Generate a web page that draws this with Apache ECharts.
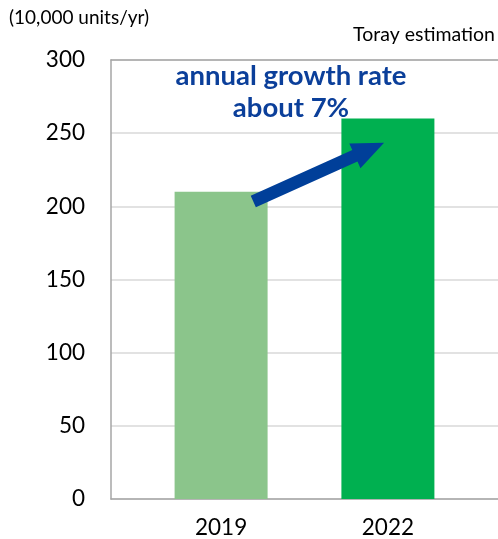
<!DOCTYPE html>
<html><head><meta charset="utf-8">
<script src="https://cdn.jsdelivr.net/npm/echarts@6/dist/echarts.min.js"></script>
<style>html,body{margin:0;padding:0;background:#fff}#c{width:498px;height:539px}</style>
</head><body><div id="c"></div>
<script>
const categories = ['2019', '2022'];
const values = [210, 260];
const barColors = ['#8BC58B', '#00B050'];
const yTicks = [0, 50, 100, 150, 200, 250, 300];
const unitLabel = '(10,000 units/yr)';
const sourceLabel = 'Toray estimation';
const noteLines = ['annual growth rate', 'about 7%'];
// arrow anchors in data space [categoryIndexPosition, value]
const arrowFrom = [0.193, 203.3];
const arrowTo = [0.977, 243.5];

const FONT = 'Lato, "Open Sans", sans-serif';
const chart = echarts.init(document.getElementById('c'), null, {renderer: 'canvas'});
const xCommon = {type: 'value', min: -0.66, max: 1.66, splitLine: {show: false}};
chart.setOption({
  animation: false,
  grid: {left: 111, right: 0, top: 60, bottom: 40, containLabel: false},
  xAxis: [
    Object.assign({}, xCommon, {
      position: 'bottom',
      axisLine: {show: true, onZero: false, lineStyle: {color: '#A6A6A6', width: 1.5}},
      axisTick: {show: false},
      axisLabel: {
        customValues: categories.map((c, i) => i),
        formatter: v => categories[Math.round(v)] || '',
        color: '#000', fontSize: 22.5, fontFamily: FONT, margin: 17
      }
    }),
    Object.assign({}, xCommon, {
      position: 'top',
      axisLine: {show: true, onZero: false, lineStyle: {color: '#A6A6A6', width: 1.5}},
      axisTick: {show: false}, axisLabel: {show: false}
    })
  ],
  yAxis: {
    type: 'value', min: yTicks[0], max: yTicks[yTicks.length - 1], interval: 50,
    axisLine: {show: true, onZero: false, lineStyle: {color: '#A6A6A6', width: 1.5}},
    axisTick: {show: false},
    splitLine: {lineStyle: {color: '#D9D9D9', width: 1.5}},
    axisLabel: {color: '#000', fontSize: 22.5, fontFamily: FONT, margin: 26}
  },
  series: [{
    type: 'bar', xAxisIndex: 0, barWidth: 93,
    data: values.map((v, i) => ({value: [i, v], itemStyle: {color: barColors[i]}}))
  }]
});

function arrowGraphic() {
  const s = chart.convertToPixel({xAxisIndex: 0, yAxisIndex: 0}, arrowFrom);
  const t = chart.convertToPixel({xAxisIndex: 0, yAxisIndex: 0}, arrowTo);
  const dx = t[0] - s[0], dy = t[1] - s[1];
  const L = Math.hypot(dx, dy);
  const ux = dx / L, uy = dy / L, nx = -uy, ny = ux;
  const hw = 6.3, headW = 13.6, headL = 32;
  const b = [t[0] - ux * headL, t[1] - uy * headL];
  const pts = [
    [s[0] + nx * hw, s[1] + ny * hw],
    [b[0] + nx * hw, b[1] + ny * hw],
    [b[0] + nx * headW, b[1] + ny * headW],
    t,
    [b[0] - nx * headW, b[1] - ny * headW],
    [b[0] - nx * hw, b[1] - ny * hw],
    [s[0] - nx * hw, s[1] - ny * hw]
  ];
  return {type: 'polygon', shape: {points: pts}, style: {fill: '#003F99'}, z: 100};
}

chart.setOption({
  graphic: [
    {type: 'text', left: 9, top: 8, style: {text: unitLabel, font: '19px ' + FONT, fill: '#000'}},
    {type: 'text', right: 3, top: 25, style: {text: sourceLabel, font: '19.5px ' + FONT, fill: '#000'}},
    {type: 'text', x: 291, y: 76, style: {text: noteLines[0], font: 'bold 27.5px ' + FONT, fill: '#0B3F9A', align: 'center', verticalAlign: 'middle'}, z: 100},
    {type: 'text', x: 291, y: 108, style: {text: noteLines[1], font: 'bold 27.5px ' + FONT, fill: '#0B3F9A', align: 'center', verticalAlign: 'middle'}, z: 100},
    arrowGraphic()
  ]
});
</script></body></html>
